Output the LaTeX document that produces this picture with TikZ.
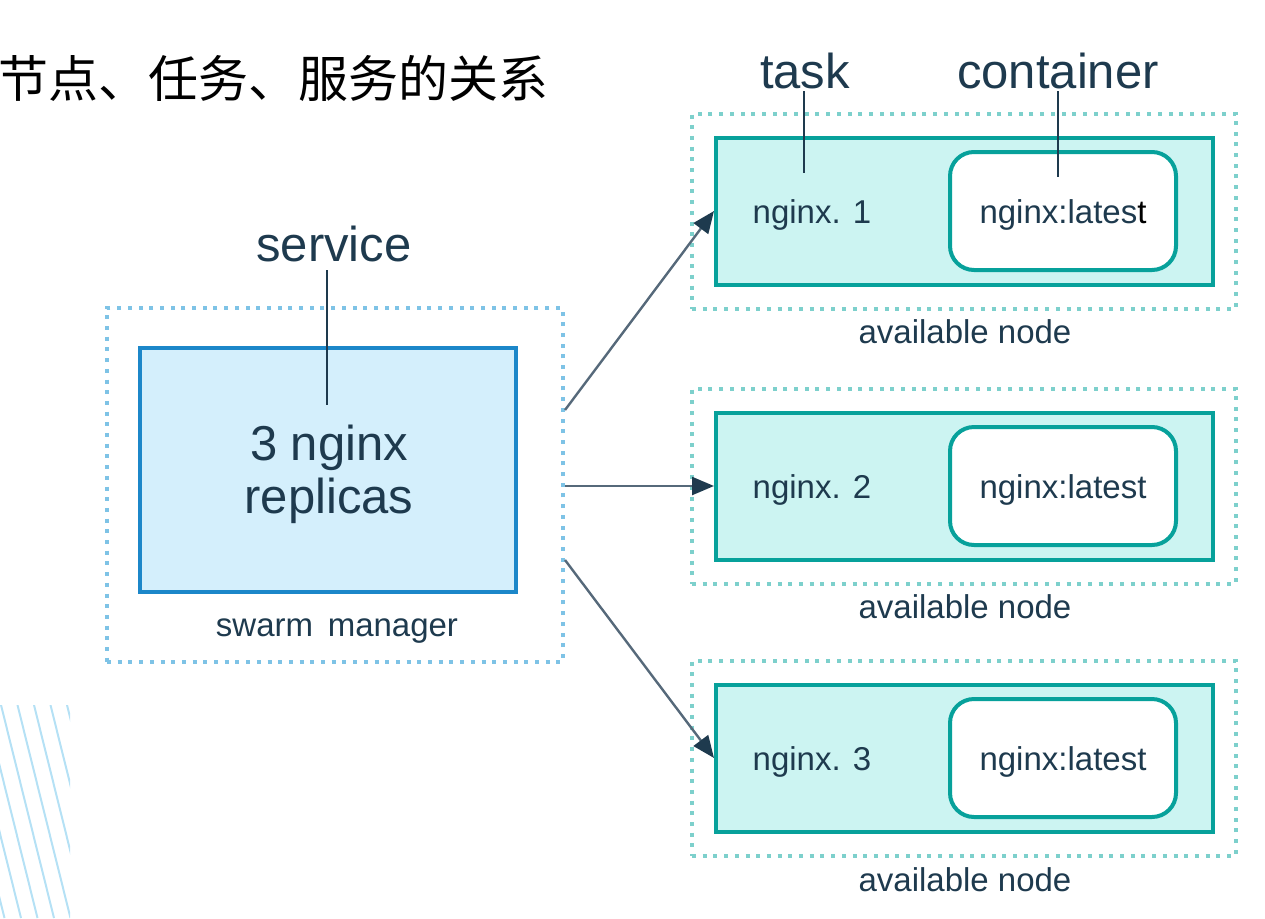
\documentclass[tikz,border=0pt]{standalone}
\usepackage{fontspec}
\setmainfont{Liberation Sans}
\newfontfamily\cjk{Noto Sans CJK SC}
\usetikzlibrary{arrows.meta}
\definecolor{navy}{HTML}{1E3A4E}
\definecolor{bluedot}{HTML}{7EC3E6}
\definecolor{svcfill}{HTML}{D4EFFC}
\definecolor{svcline}{HTML}{1C87C9}
\definecolor{teal}{HTML}{07A19B}
\definecolor{tealfill}{HTML}{CCF4F2}
\definecolor{tealdot}{HTML}{7DD0CC}
\definecolor{arrowc}{HTML}{56697A}
\definecolor{hatch}{HTML}{B5E1F5}
\tikzset{
  dotbox/.style={draw, line width=4pt, dash pattern=on 4pt off 6.7pt, inner sep=0pt},
  svcbox/.style={draw=svcline, fill=svcfill, line width=4pt, inner sep=0pt},
  taskbox/.style={draw=teal, fill=tealfill, line width=4pt, inner sep=0pt, minimum width=497pt, minimum height=147pt},
  ctrbox/.style={draw=teal, fill=white, line width=4pt, rounded corners=24pt, inner sep=0pt, minimum width=226pt, minimum height=118pt},
  bigtxt/.style={text=navy, inner sep=0pt, font=\fontsize{49}{54}\selectfont},
  midtxt/.style={text=navy, inner sep=0pt, font=\fontsize{33}{38}\selectfont},
  pointer/.style={draw=navy, line width=2.5pt},
  flow/.style={draw=arrowc, line width=2.4pt, -{Triangle[length=22pt,width=18pt,color=navy]}},
}
\begin{document}
\begin{tikzpicture}[x=1pt,y=-1pt]
\useasboundingbox (0,0) rectangle (1265,918);
% hatching
\begin{scope}
\clip (0,705) rectangle (70,918);
\foreach \s in {-230,-213.5,...,80}{
  \draw[hatch, line width=2pt] (\s,705) -- ++(53,213);
}
\end{scope}
% title
\node[anchor=west, inner sep=0pt, font=\cjk\fontsize{50}{50}\selectfont] (title) at (-2,78) {节点、任务、服务的关系};
% manager
\node[dotbox, draw=bluedot, minimum width=456pt, minimum height=354pt] (mgr) at (335,485) {};
\node[svcbox, minimum width=376pt, minimum height=244pt] (svc) at (328,470) {};
\node[bigtxt, anchor=base] (l1) at (329,460) {3 nginx};
\node[bigtxt, anchor=base] (l2) at (329,513) {replicas};
\node[midtxt, anchor=base] (swm) at (337,636) {swarm\ \,manager};
\node[bigtxt, anchor=base] (svclbl) at (334,261) {service};
\coordinate (svctip) at (327,405);
\draw[pointer] (svctip |- 0,270) -- (svctip);
% nodes
\foreach \i/\y/\ly in {1/211/332, 2/486/607, 3/758/880}{
  \node[dotbox, draw=tealdot, minimum width=544pt, minimum height=195pt] (avail\i) at (964,\y) {};
  \node[taskbox] (task\i) at (964.5,\y) {};
  \node[ctrbox] (ctr\i) at (1063,\y) {};
  \node[midtxt, anchor=base] (tl\i) at (812,\y+12) {nginx. \i};
  \node[midtxt, anchor=base] (al\i) at (965,\ly+11) {available node};
}
\node[midtxt, anchor=base] (cl1) at (1063,223) {nginx:lates{\color{black}t}};
\node[midtxt, anchor=base] (cl2) at (1063,498) {nginx:latest};
\node[midtxt, anchor=base] (cl3) at (1063,770) {nginx:latest};
% top labels
\node[bigtxt, anchor=base] (tasklbl) at (805,88) {task};
\node[bigtxt, anchor=base] (ctrlbl) at (1058,88) {container};
\coordinate (tasktip) at (804,173);
\coordinate (ctrtip) at (1058,177);
\draw[pointer] (tasktip |- 0,91) -- (tasktip);
\draw[pointer] (ctrtip |- 0,91) -- (ctrtip);
% arrows
\draw[flow] ([yshift=75pt]mgr.east) -- (task1.west);
\draw[flow] ([yshift=-1pt]mgr.east) -- (task2.west);
\draw[flow] ([yshift=-75pt]mgr.east) -- (task3.west);
\end{tikzpicture}
\end{document}
